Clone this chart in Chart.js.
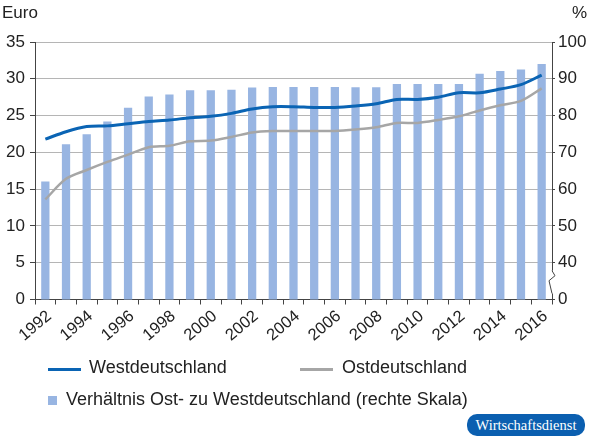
<!DOCTYPE html>
<html>
<head>
<meta charset="utf-8">
<script src="https://cdn.jsdelivr.net/npm/chart.js@4.4.0/dist/chart.umd.min.js"></script>
<style>
  html, body { margin: 0; padding: 0; background: #fff; }
  #wrap { position: relative; width: 590px; height: 443px; font-family: "Liberation Sans", Arial, Helvetica, sans-serif; color: #222; }
  canvas { position: absolute; left: 0; top: 0; }
  .t { position: absolute; white-space: nowrap; line-height: 18px; font-size: 18px; }
  .ttl { position: absolute; white-space: nowrap; line-height: 17px; font-size: 17px; }
  .ln { position: absolute; height: 3px; }
  .sq { position: absolute; width: 9px; height: 9px; background: #98b5e2; }
  #badge { position: absolute; left: 467px; top: 414px; width: 118px; height: 22px; border-radius: 10px; background: #0b5fb0; color: #fff; font-family: "Liberation Serif", "DejaVu Serif", serif; font-size: 14.5px; line-height: 22px; text-align: center; }
</style>
</head>
<body>
<div id="wrap">
  <canvas id="c" width="590" height="443"></canvas>
  <div class="ttl" style="left:2px; top:4px;">Euro</div>
  <div class="ttl" style="right:3px; top:4px;">%</div>
  <div class="ln" style="left:48px; top:367.5px; width:33px; background:#0a64b4;"></div>
  <div class="t" style="left:89px; top:358px;">Westdeutschland</div>
  <div class="ln" style="left:300px; top:367.5px; width:33px; background:#a6a6a6;"></div>
  <div class="t" style="left:342px; top:358px;">Ostdeutschland</div>
  <div class="sq" style="left:48px; top:395.5px;"></div>
  <div class="t" style="left:66px; top:390px;">Verhältnis Ost- zu Westdeutschland (rechte Skala)</div>
  <div id="badge">Wirtschaftsdienst</div>
</div>
<script>
const years = ['1992','1993','1994','1995','1996','1997','1998','1999','2000','2001','2002','2003','2004',
               '2005','2006','2007','2008','2009','2010','2011','2012','2013','2014','2015','2016'];
const west = [21.8,22.8,23.5,23.6,23.9,24.2,24.4,24.7,24.9,25.3,25.9,26.2,26.2,
              26.1,26.1,26.3,26.6,27.2,27.2,27.5,28.1,28.1,28.6,29.2,30.5];
const ost = [13.6,16.4,17.6,18.7,19.7,20.7,20.9,21.5,21.6,22.1,22.7,22.9,22.9,
             22.9,22.9,23.1,23.4,24.0,24.0,24.4,24.9,25.7,26.4,27.0,28.7];
const ratio = [62.1,72.2,74.9,78.4,82.1,85.2,85.7,86.9,86.9,87.0,87.6,87.8,87.8,
               87.8,87.8,87.7,87.7,88.6,88.6,88.6,88.6,91.4,92.1,92.5,94.0];
const leftTicks = { min: 0, max: 35, step: 5 };
const rightTicks = { min: 30, max: 100, step: 10 };

const FONT = '"Liberation Sans", Arial, Helvetica, sans-serif';
const axisDark = '#444';

const breakPlugin = {
  id: 'axisBreak',
  afterDraw(chart) {
    const { ctx, chartArea } = chart;
    const y2 = chart.scales.y2;
    const x = chartArea.right;
    const yTop = y2.getPixelForValue(40) + 8;
    const yBot = chartArea.bottom - 6;
    ctx.save();
    ctx.fillStyle = '#fff';
    ctx.fillRect(x - 2, yTop, 4, yBot - yTop);
    ctx.strokeStyle = axisDark;
    ctx.lineWidth = 1;
    ctx.beginPath();
    ctx.moveTo(x, yTop);
    ctx.lineTo(x + 3, yTop + 5);
    ctx.lineTo(x - 3, yTop + 10);
    ctx.lineTo(x, yBot);
    ctx.stroke();
    ctx.restore();
  }
};

new Chart(document.getElementById('c'), {
  data: {
    labels: years,
    datasets: [
      { type: 'line', label: 'Westdeutschland', data: west, yAxisID: 'y', borderColor: '#0a64b4', borderWidth: 3, pointRadius: 0, tension: 0.3, order: 1 },
      { type: 'line', label: 'Ostdeutschland', data: ost, yAxisID: 'y', borderColor: '#a6a6a6', borderWidth: 2.5, pointRadius: 0, tension: 0.3, order: 1 },
      { type: 'bar', label: 'Verhältnis Ost- zu Westdeutschland (rechte Skala)', data: ratio, yAxisID: 'y2', backgroundColor: '#98b5e2', barPercentage: 0.4, categoryPercentage: 1.0, order: 2 }
    ]
  },
  options: {
    responsive: false,
    animation: false,
    layout: { padding: { top: 42, left: 0, right: 0, bottom: 0 } },
    plugins: { legend: { display: false }, tooltip: { enabled: false } },
    scales: {
      x: {
        type: 'category',
        offset: true,
        grid: { offset: true, drawOnChartArea: false, tickLength: 5, color: axisDark },
        border: { color: axisDark, width: 1 },
        ticks: {
          autoSkip: false, maxRotation: 40, minRotation: 40, padding: 2, labelOffset: 4,
          color: '#222', font: { family: FONT, size: 16.5 },
          callback: function(v, i) { return i % 2 === 0 ? this.getLabelForValue(v) : ''; }
        },
        afterFit(s) { s.height = 143.5; }
      },
      y: {
        position: 'left',
        min: leftTicks.min, max: leftTicks.max,
        grid: { color: '#b5b5b5', tickLength: 5, tickColor: axisDark, lineWidth: 1 },
        border: { color: axisDark, width: 1 },
        ticks: { stepSize: leftTicks.step, padding: 5, color: '#222', font: { family: FONT, size: 17 } },
        afterFit(s) { s.width = 35; }
      },
      y2: {
        position: 'right',
        min: rightTicks.min, max: rightTicks.max,
        grid: { drawOnChartArea: false, tickLength: 3, color: axisDark },
        border: { color: axisDark, width: 1 },
        ticks: { stepSize: rightTicks.step, padding: 3, color: '#222', font: { family: FONT, size: 17 },
                 callback: v => v === 30 ? '0' : String(v) },
        afterFit(s) { s.width = 38; }
      }
    }
  },
  plugins: [breakPlugin]
});
</script>
</body>
</html>
